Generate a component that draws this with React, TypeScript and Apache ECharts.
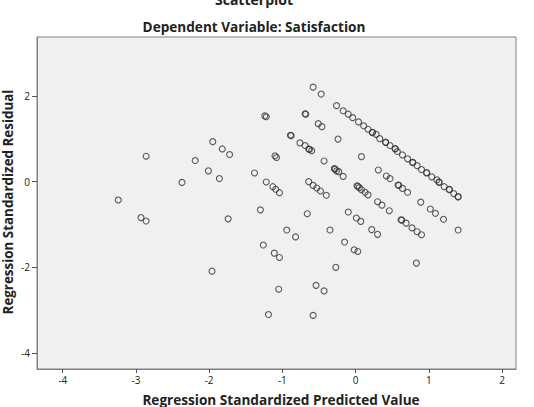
import React, { useEffect, useRef } from "react";
import * as echarts from "echarts";

const titleMain = "Scatterplot";
const titleSub = "Dependent Variable: Satisfaction";
const xName = "Regression Standardized Predicted Value";
const yName = "Regression Standardized Residual";

const xTicks = [-4, -3, -2, -1, 0, 1, 2];
const yTicks = [-4, -2, 0, 2];

// Regression standardized predicted values
const predicted = [
  -1.95, -1.82, -1.72, -2.86, -2.19, -2.01, -1.86, -2.37, -3.24, -2.93, -2.86, -1.74, -1.96,
  -0.58, -0.47,
  -0.26, -0.17, -0.10, -0.04, 0.04, 0.11, 0.17, 0.23, 0.23, 0.28, 0.33, 0.41, 0.41, 0.47, 0.54, 0.54,
  0.57, 0.64, 0.71, 0.78, 0.78, 0.84, 0.90, 0.97, 0.97, 1.04, 1.11, 1.14, 1.14, 1.21, 1.28, 1.28, 1.34, 1.40, 1.40,
  -1.24, -1.22, -0.69, -0.68, -0.51, -0.46, -0.89, -0.88, -0.76, -0.69, -0.64, -0.63, -0.60, -0.24,
  -1.10, -1.08, 0.08, -0.43, -0.29, -0.28, -0.26, -0.23, -0.17, 0.31,
  -1.38, -1.22, -1.13, -1.09, -1.04, -0.64, -0.58, -0.53, -0.48, -0.40,
  0.02, 0.03, 0.05, 0.08, 0.13, 0.17, 0.42, 0.47, 0.58, 0.59, 0.64, 0.71,
  0.30, 0.36, 0.46, 0.89, 1.02, 1.09, 1.20,
  -1.30, -0.66, -0.10, 0.01, 0.07, 0.62, 0.63, 0.69, 0.77, 0.84, 0.90, 1.40, 0.22, 0.30,
  -0.94, -0.82, -0.35, -1.26, -1.11, -1.04, -0.15, -0.02, 0.03, -0.27, 0.83,
  -1.05, -0.54, -0.43, -1.19, -0.58,
];

// Regression standardized residuals
const residual = [
  0.93, 0.76, 0.63, 0.59, 0.49, 0.25, 0.07, -0.02, -0.43, -0.84, -0.92, -0.87, -2.09,
  2.20, 2.04,
  1.77, 1.65, 1.57, 1.49, 1.39, 1.30, 1.22, 1.14, 1.15, 1.10, 1.00, 0.91, 0.92, 0.84, 0.76, 0.77,
  0.70, 0.62, 0.53, 0.44, 0.45, 0.37, 0.28, 0.20, 0.21, 0.11, 0.04, -0.02, -0.01, -0.12, -0.19, -0.18, -0.28, -0.36, -0.35,
  1.53, 1.51, 1.58, 1.57, 1.35, 1.28, 1.08, 1.07, 0.90, 0.84, 0.76, 0.75, 0.72, 0.99,
  0.60, 0.56, 0.58, 0.48, 0.30, 0.29, 0.25, 0.23, 0.12, 0.27,
  0.20, -0.01, -0.12, -0.18, -0.26, 0.00, -0.09, -0.15, -0.22, -0.32,
  -0.10, -0.11, -0.14, -0.19, -0.25, -0.31, 0.13, 0.07, -0.08, -0.09, -0.16, -0.25,
  -0.47, -0.55, -0.68, -0.48, -0.64, -0.74, -0.88,
  -0.66, -0.75, -0.71, -0.85, -0.93, -0.89, -0.90, -0.97, -1.08, -1.17, -1.24, -1.13, -1.12, -1.23,
  -1.13, -1.29, -1.13, -1.48, -1.67, -1.77, -1.41, -1.59, -1.63, -2.00, -1.90,
  -2.51, -2.42, -2.55, -3.10, -3.12,
];

const FONT = "'Open Sans', 'DejaVu Sans', sans-serif";

export default function App() {
  const ref = useRef<HTMLDivElement>(null);
  useEffect(() => {
    if (!ref.current) return;
    const chart = echarts.init(ref.current, undefined, { renderer: "svg" });
    const points = predicted.map((x, i) => [x, residual[i]]);
    chart.setOption({
      animation: false,
      backgroundColor: "#ffffff",
      grid: {
        left: 37,
        right: 18,
        top: 37,
        bottom: 38,
        show: true,
        backgroundColor: "#f0f0f0",
        borderColor: "#808080",
        borderWidth: 1,
      },
      xAxis: {
        type: "value",
        min: -4.35,
        max: 2.19,
        axisLine: { show: true, onZero: false, lineStyle: { color: "#808080", width: 1 } },
        axisTick: { show: true, length: 4, customValues: xTicks, lineStyle: { color: "#555" } },
        axisLabel: { customValues: xTicks, fontSize: 10, color: "#222", margin: 6, fontFamily: FONT },
        splitLine: { show: false },
      },
      yAxis: {
        type: "value",
        min: -4.37,
        max: 3.37,
        axisLine: { show: true, onZero: false, lineStyle: { color: "#808080", width: 1 } },
        axisTick: { show: true, length: 5, customValues: yTicks, lineStyle: { color: "#555" } },
        axisLabel: { customValues: yTicks, fontSize: 10, color: "#222", margin: 7, fontFamily: FONT },
        splitLine: { show: false },
      },
      graphic: [
        {
          type: "text",
          x: 254,
          y: -1,
          style: { text: titleMain, fontSize: 14, fontWeight: "bold", fontFamily: FONT, fill: "#222", align: "center", verticalAlign: "middle" },
        },
        {
          type: "text",
          x: 254,
          y: 26,
          style: { text: titleSub, fontSize: 13.6, fontWeight: "bold", fontFamily: FONT, fill: "#222", align: "center", verticalAlign: "middle" },
        },
        {
          type: "text",
          x: 281,
          y: 399,
          style: { text: xName, fontSize: 13.6, fontWeight: "bold", fontFamily: FONT, fill: "#222", align: "center", verticalAlign: "middle" },
        },
        {
          type: "text",
          x: 8,
          y: 202,
          rotation: Math.PI / 2,
          style: { text: yName, fontSize: 13.4, fontWeight: "bold", fontFamily: FONT, fill: "#222", align: "center", verticalAlign: "middle" },
        },
      ],
      series: [
        {
          type: "scatter",
          data: points,
          symbol: "circle",
          symbolSize: 6,
          itemStyle: { color: "rgba(0,0,0,0)", borderColor: "#333", borderWidth: 1.1 },
          emphasis: { disabled: true },
        },
      ],
    });
    return () => chart.dispose();
  }, []);
  return <div ref={ref} style={{ width: 534, height: 407, position: "absolute", left: 0, top: 0 }} />;
}
